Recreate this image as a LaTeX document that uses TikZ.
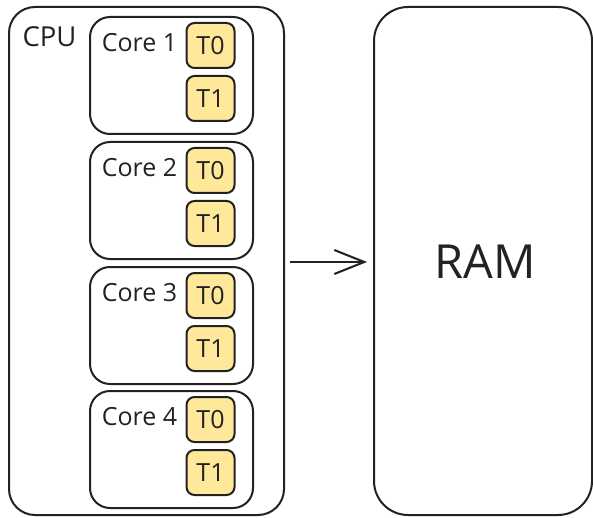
\documentclass[tikz,border=0pt]{standalone}
\usepackage{fontspec}
\setmainfont{Open Sans}
\usetikzlibrary{arrows.meta}
\definecolor{ink}{HTML}{222222}
\definecolor{thr}{HTML}{FFE899}
\tikzset{
  box/.style={draw=ink, line width=2pt, rounded corners=#1},
  thread/.style={draw=ink, line width=2pt, fill=thr, rounded corners=8pt,
    minimum width=48pt, minimum height=45pt, inner sep=0pt, font=\fontsize{25}{25}\selectfont, text=ink},
  lbl/.style={inner sep=0pt, text=ink, font=\fontsize{25}{25}\selectfont},
}
\begin{document}
\begin{tikzpicture}[x=1pt,y=-1pt]
\useasboundingbox (0,0) rectangle (593,518);
% CPU
\draw[box=26pt] (9,7) rectangle (284,515);
\node[lbl, font=\fontsize{27.5}{27.5}\selectfont, anchor=center] (cpu) at (49.5,37) {CPU};
\coordinate (cpuE) at (284,262);
% RAM
\draw[box=34pt] (374,7) rectangle (592,515);
\node[lbl, font=\fontsize{47}{47}\selectfont] (ram) at (485,262) {RAM};
\coordinate (ramW) at (374,262);
% Cores
\foreach \i/\t in {1/17,2/142,3/267,4/391}{
  \draw[box=20pt] (90,\t) rectangle (253,\t+117);
  \node[lbl] (core\i) at (139.5,\t+26) {Core \i};
  \node[thread] (c\i t0) at (210.5,\t+28.5) {T0};
  \node[thread] (c\i t1) at (210.5,\t+81.5) {T1};
}
\draw[draw=ink, line width=2pt, -{Straight Barb[length=30pt,width=24pt]}, shorten <=6pt, shorten >=7pt] (cpuE) -- (ramW);
\end{tikzpicture}
\end{document}
